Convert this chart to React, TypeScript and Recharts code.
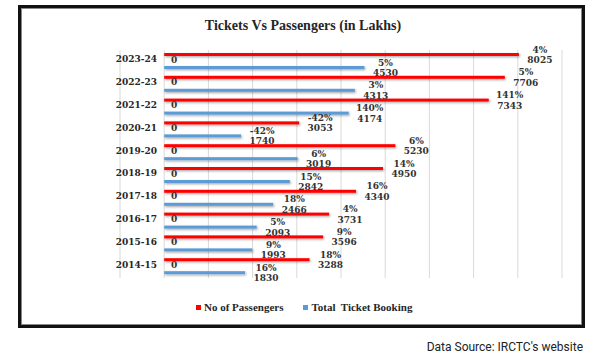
import React from 'react';
import { BarChart, Bar, XAxis, YAxis, CartesianGrid, LabelList, Legend } from 'recharts';

const categories = ['2023-24', '2022-23', '2021-22', '2020-21', '2019-20', '2018-19', '2017-18', '2016-17', '2015-16', '2014-15'];
const passengers = [8025, 7706, 7343, 3053, 5230, 4950, 4340, 3731, 3596, 3288];
const passengerGrowth = ['4%', '5%', '141%', '-42%', '6%', '14%', '16%', '4%', '9%', '18%'];
const bookings = [4530, 4313, 4174, 1740, 3019, 2842, 2466, 2093, 1993, 1830];
const bookingGrowth = ['5%', '3%', '140%', '-42%', '6%', '15%', '18%', '5%', '9%', '16%'];
const baseLabels = [0, 0, 0, 0, 0, 0, 0, 0, 0, 0];
const xTicks = [-1000, 0, 1000, 2000, 3000, 4000, 5000, 6000, 7000, 8000, 9000];

const data = categories.map((c, i) => ({
  cat: c,
  passengers: passengers[i],
  bookings: bookings[i],
  pg: passengerGrowth[i],
  bg: bookingGrowth[i],
  base: baseLabels[i],
}));

const LABEL_FONT = '"DejaVu Serif", serif';
const RED = '#ff0000';
const BLUE = '#5b9bd5';

const makeEndLabel = (growth: string[], values: number[]) => (props: any) => {
  const { x, y, width, height, index } = props;
  const cx = Number(x) + Number(width) + 21;
  const cy = Number(y) + Number(height) / 2;
  return (
    <g>
      <text x={cx} y={cy - 5} textAnchor="middle" dominantBaseline="central" fontFamily={LABEL_FONT} fontWeight="bold" fontSize={9} fill="#333">
        {growth[index]}
      </text>
      <text x={cx} y={cy + 5.5} textAnchor="middle" dominantBaseline="central" fontFamily={LABEL_FONT} fontWeight="bold" fontSize={9} fill="#333">
        {values[index]}
      </text>
    </g>
  );
};

const baseLabel = (props: any) => {
  const { x, y, height, index } = props;
  return (
    <text x={Number(x) + 10} y={Number(y) + Number(height) / 2 + 5} textAnchor="middle" dominantBaseline="central" fontFamily={LABEL_FONT} fontWeight="bold" fontSize={9} fill="#333">
      {baseLabels[index]}
    </text>
  );
};

const shadowShape = (color: string) => (props: any) => {
  const { x, y, width, height } = props;
  if (!width) return <g />;
  return <rect x={x} y={y} width={width} height={height} fill={color} filter="url(#barShadow)" />;
};

const CatTick = (props: any) => {
  const { x, y, payload } = props;
  return (
    <text x={Number(x) + 45} y={Number(y) - 2} textAnchor="end" dominantBaseline="central" fontFamily={LABEL_FONT} fontWeight="bold" fontSize={9} fill="#262626">
      {payload.value}
    </text>
  );
};

const LegendContent = () => (
  <div style={{ display: 'flex', alignItems: 'center', fontFamily: '"Liberation Serif", serif', fontWeight: 'bold', fontSize: 11, color: '#262626', whiteSpace: 'pre' }}>
    <span style={{ width: 5, height: 5, background: RED, display: 'inline-block', marginRight: 3 }} />
    <span>No of Passengers</span>
    <span style={{ width: 5, height: 5, background: BLUE, display: 'inline-block', marginLeft: 20, marginRight: 3 }} />
    <span>Total  Ticket Booking</span>
  </div>
);

export default function App() {
  return (
    <div style={{ position: 'absolute', left: 0, top: 0, width: 602, height: 357, background: '#fff', overflow: 'hidden' }}>
      <div style={{ position: 'absolute', left: 18, top: 5, width: 567, height: 323, border: '3.5px solid #111', boxSizing: 'border-box', boxShadow: 'inset 0 0 0 1px #888' }} />
      <div style={{ position: 'absolute', left: 0, width: 606, top: 17, textAlign: 'center', fontFamily: '"Liberation Serif", serif', fontWeight: 'bold', fontSize: 14, color: '#262626', lineHeight: '18px' }}>
        Tickets Vs Passengers (in Lakhs)
      </div>
      <div style={{ position: 'absolute', left: 0, top: 0 }}>
        <BarChart
          width={602}
          height={357}
          data={data}
          layout="vertical"
          margin={{ top: 50, right: 40, bottom: 67, left: 80 }}
          barGap={10}
          barSize={3}
        >
          <defs>
            <filter id="barShadow" x="-5%" y="-100%" width="110%" height="400%">
              <feDropShadow dx="1" dy="1.2" stdDeviation="0.8" floodColor="#000" floodOpacity="0.35" />
            </filter>
          </defs>
          <CartesianGrid horizontal={false} vertical={true} stroke="#d9d9d9" strokeWidth={1} />
          <XAxis type="number" domain={[-1000, 9000]} ticks={xTicks} hide allowDataOverflow />
          <YAxis type="category" dataKey="cat" width={40} axisLine={false} tickLine={false} tick={<CatTick />} interval={0} />
          <Legend wrapperStyle={{ position: 'absolute', left: 196, top: 301, width: 'auto' }} content={<LegendContent />} />
          <Bar dataKey="passengers" name="No of Passengers" fill={RED} isAnimationActive={false} shape={shadowShape(RED)}>
            <LabelList dataKey="pg" content={makeEndLabel(passengerGrowth, passengers)} />
            <LabelList dataKey="base" content={baseLabel} />
          </Bar>
          <Bar dataKey="bookings" name="Total  Ticket Booking" fill={BLUE} isAnimationActive={false} shape={shadowShape(BLUE)}>
            <LabelList dataKey="bg" content={makeEndLabel(bookingGrowth, bookings)} />
          </Bar>
        </BarChart>
      </div>
      <div style={{ position: 'absolute', right: 19, top: 339, fontFamily: 'Roboto, sans-serif', fontSize: 12, color: '#222', lineHeight: '16px' }}>
        Data Source: IRCTC's website
      </div>
    </div>
  );
}
